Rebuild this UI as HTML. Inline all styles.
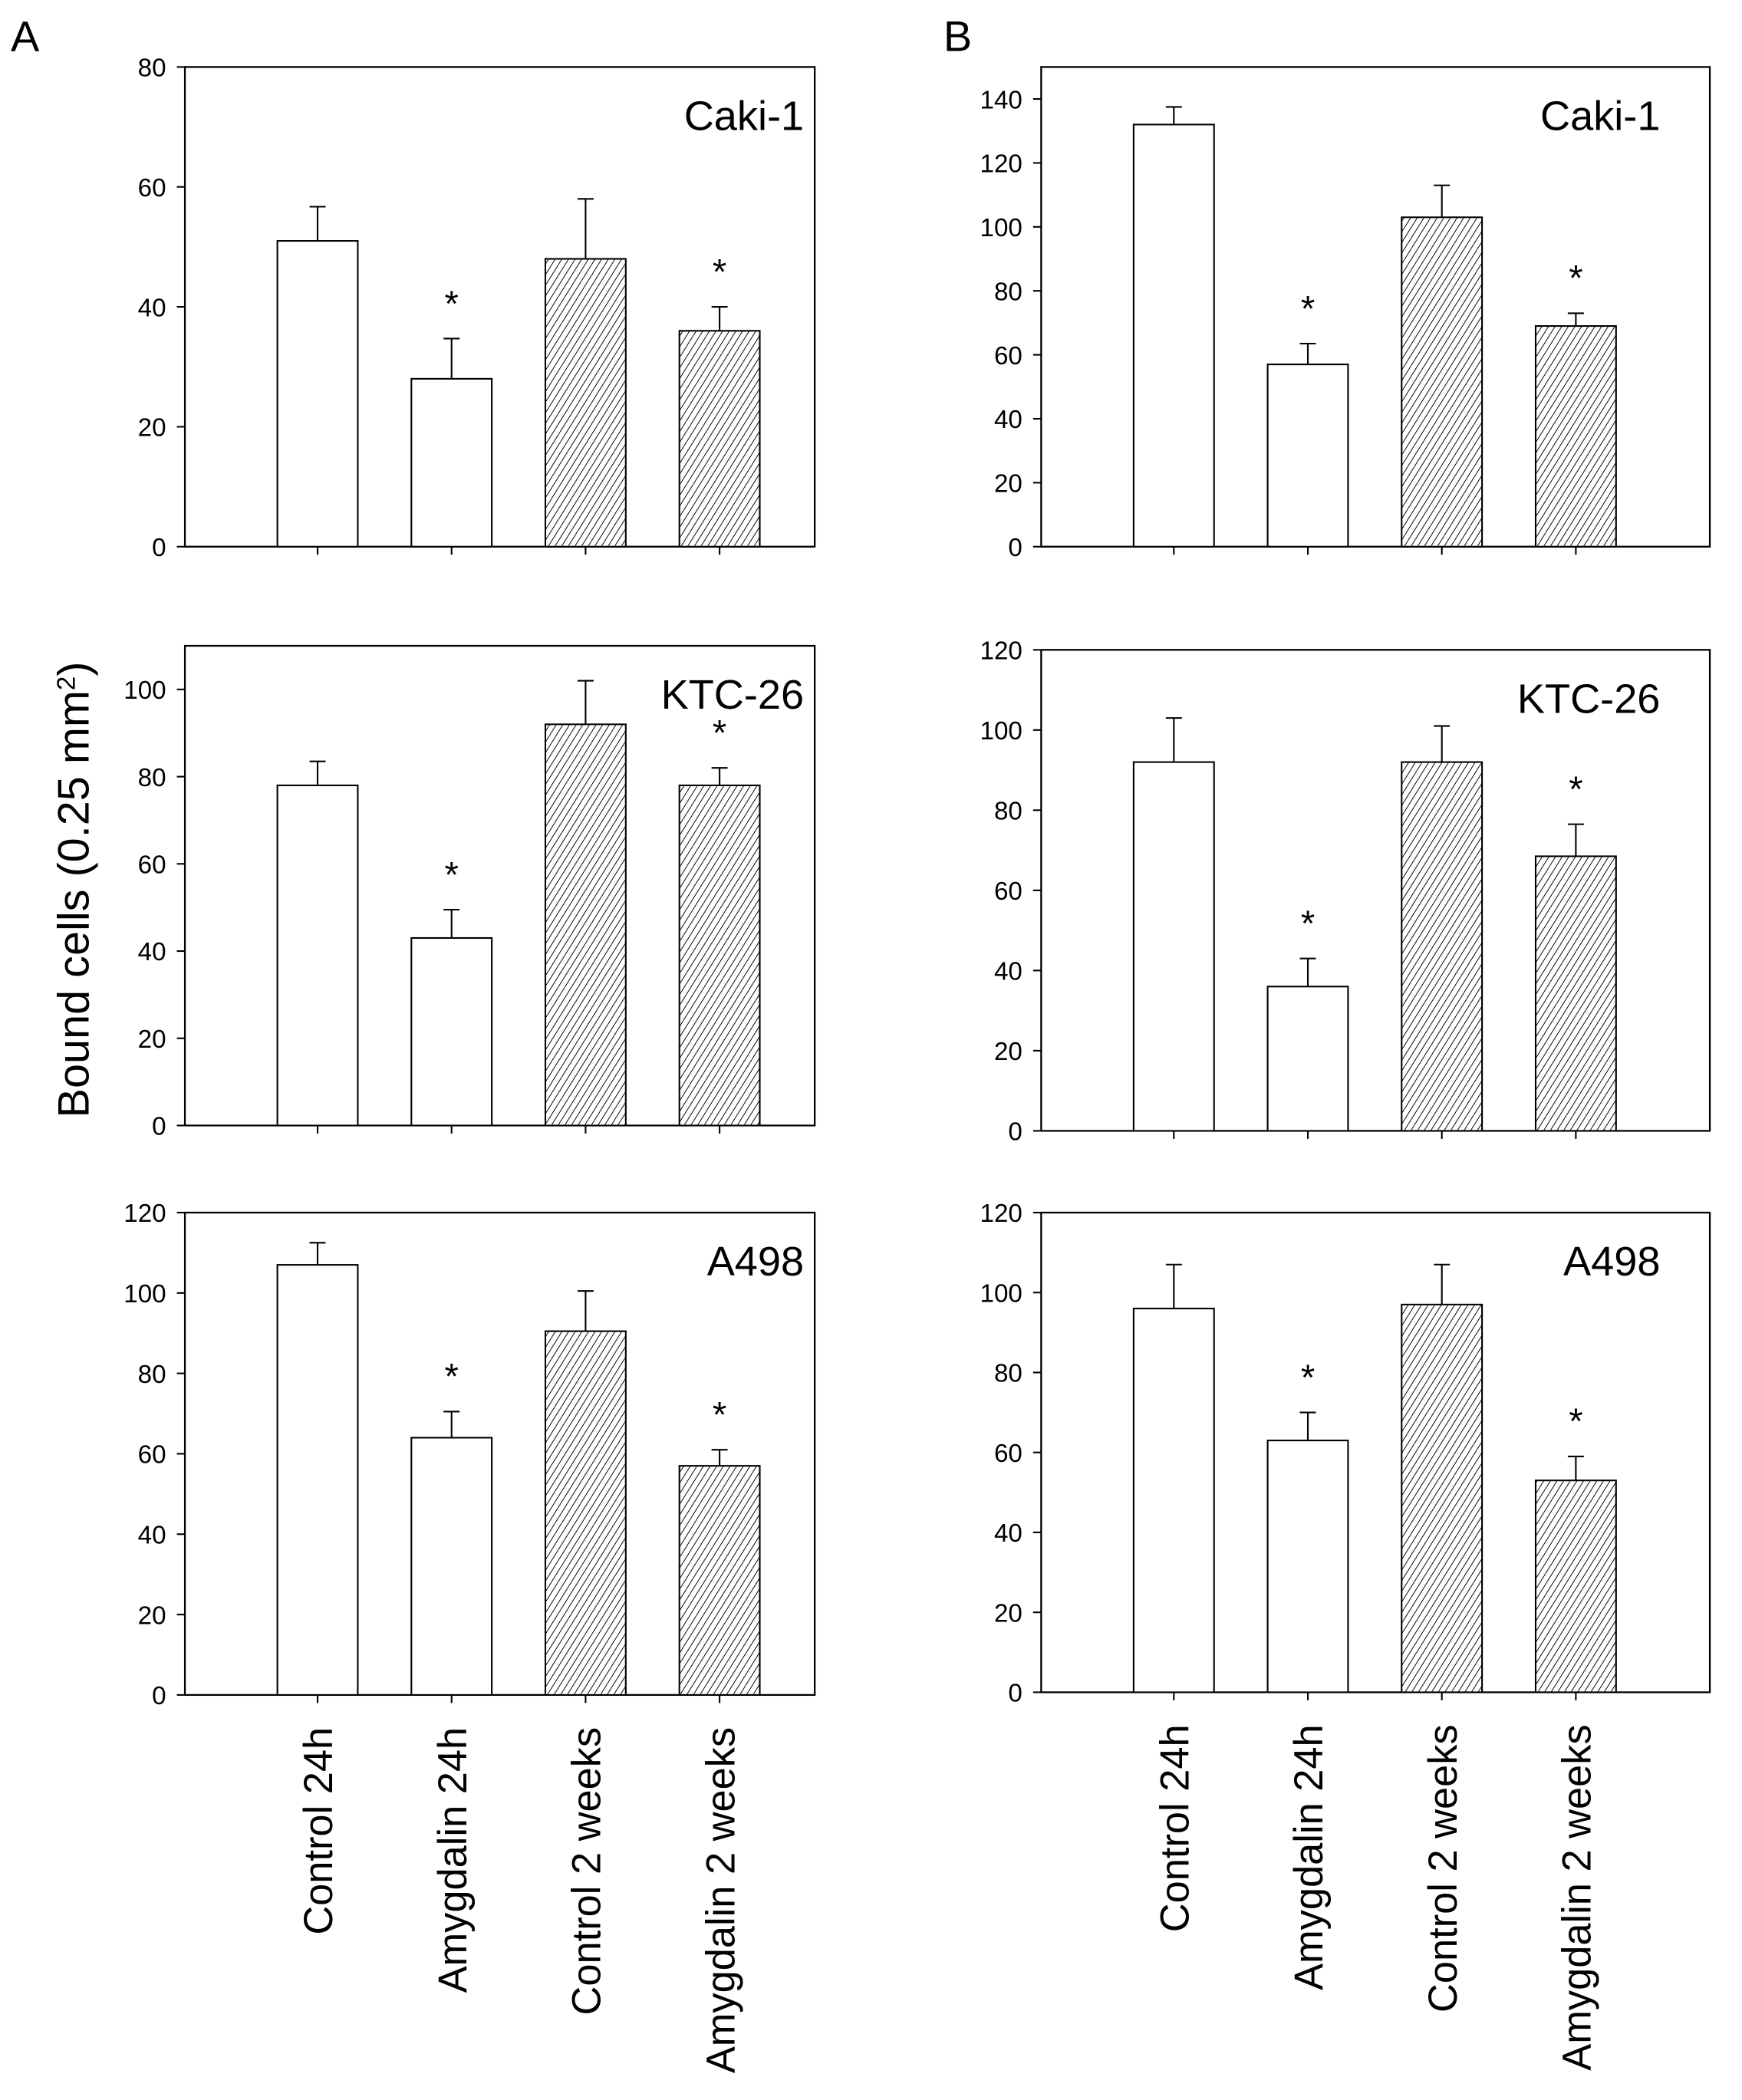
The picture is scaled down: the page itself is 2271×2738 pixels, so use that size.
<!DOCTYPE html>
<html><head><meta charset="utf-8"><style>
html,body{margin:0;padding:0;background:#fff;}
svg{display:block;}
text{font-family:"Liberation Sans",sans-serif;fill:#000;}
</style></head><body>
<svg id="fig" width="2271" height="2738" viewBox="0 0 1300 1567.3" preserveAspectRatio="none" xmlns="http://www.w3.org/2000/svg">
<defs>
<pattern id="hatch" patternUnits="userSpaceOnUse" width="4.2" height="4.2" patternTransform="rotate(32)">
<rect width="4.2" height="4.2" fill="#fff"/>
<line x1="0" y1="0" x2="0" y2="4.2" stroke="#000" stroke-width="1.1"/>
</pattern>
</defs>
<text x="8" y="38" font-size="32">A</text>
<text x="704" y="38" font-size="32">B</text>
<text transform="translate(66,664) rotate(-90)" text-anchor="middle" font-size="33">Bound cells (0.25 mm<tspan baseline-shift="super" font-size="19">2</tspan>)</text>
<g id="plots"></g>
</svg>
<script>
const categories = ["Control 24h","Amygdalin 24h","Control 2 weeks","Amygdalin 2 weeks"];
const panelNames = ["Caki-1","KTC-26","A498","Caki-1","KTC-26","A498"];
const yMaxes = [80,110,120,150,120,120];
const tickSteps = [20,20,20,20,20,20];
const meansA1 = [51,28,48,36];
const meansA2 = [78,43,92,78];
const meansA3 = [107,64,90.5,57];
const meansB1 = [132,57,103,69];
const meansB2 = [92,36,92,68.5];
const meansB3 = [96,63,97,53];
const errTopA1 = [56.7,34.7,58,40];
const errTopA2 = [83.5,49.5,102,82];
const errTopA3 = [112.5,70.5,100.5,61];
const errTopB1 = [137.5,63.5,113,73];
const errTopB2 = [103,43,101,76.5];
const errTopB3 = [107,70,107,59];
const stars = [false,true,false,true];
const means = [meansA1,meansA2,meansA3,meansB1,meansB2,meansB3];
const errTops = [errTopA1,errTopA2,errTopA3,errTopB1,errTopB2,errTopB3];

const boxes = [
 {l:138,r:608,t:50,b:408},{l:138,r:608,t:482,b:840},{l:138,r:608,t:905,b:1265},
 {l:777,r:1276,t:50,b:408},{l:777,r:1276,t:485,b:844},{l:777,r:1276,t:905,b:1263}
];
const NS="http://www.w3.org/2000/svg";
const root=document.getElementById('plots');
function mk(tag,attrs,parent){const e=document.createElementNS(NS,tag);for(const k in attrs)e.setAttribute(k,attrs[k]);parent.appendChild(e);return e;}

boxes.forEach((bx,pi)=>{
  const g=mk('g',{},root);
  
  
  const ymax=yMaxes[pi];
  const y=v=>bx.b-(v/ymax)*(bx.b-bx.t);
  const pw=bx.r-bx.l;
  const x=i=>bx.l+99+100*i;
  const bw=60;
  const frame=mk('rect',{x:bx.l,y:bx.t,width:pw,height:bx.b-bx.t,fill:'none',stroke:'#000','stroke-width':1.3},g);
  
  
  for(let v=0;v<=ymax+1e-6;v+=tickSteps[pi]){
    mk('line',{x1:bx.l-6,x2:bx.l,y1:y(v),y2:y(v),stroke:'#000','stroke-width':1.2},g);
    const t=mk('text',{x:bx.l-14,y:y(v)+7,'text-anchor':'end','font-size':19},g);
    t.textContent=v;
    
    
  }
  const title=mk('text',{x:bx.l+462,y:bx.t+47,'text-anchor':'end','font-size':31},g);
  title.textContent=panelNames[pi];
  
  
  means[pi].forEach((m,i)=>{
    const cx=x(i);
    const e=errTops[pi][i];
    mk('line',{x1:cx,x2:cx,y1:y(m),y2:y(e),stroke:'#000','stroke-width':1.2},g);
    mk('line',{x1:cx-6,x2:cx+6,y1:y(e),y2:y(e),stroke:'#000','stroke-width':1.2},g);
    const r=mk('rect',{x:cx-bw/2,y:y(m),width:bw,height:bx.b-y(m),fill:i>=2?'url(#hatch)':'#fff',stroke:'#000','stroke-width':1.2},g);
    
    
    mk('line',{x1:cx,x2:cx,y1:bx.b,y2:bx.b+6,stroke:'#000','stroke-width':1.2},g);
    if(stars[i]){
      const s=mk('text',{x:cx,y:y(e)-17,'text-anchor':'middle','font-size':27},g);
      s.textContent='*';
      
      
    }
    if(pi===2||pi===5){
      const c=mk('text',{transform:'translate('+(cx+11)+','+(bx.b+24)+') rotate(-90)','text-anchor':'end','font-size':30},g);
      c.textContent=categories[i];
      
      
    }
  });
});
</script>
</body></html>
